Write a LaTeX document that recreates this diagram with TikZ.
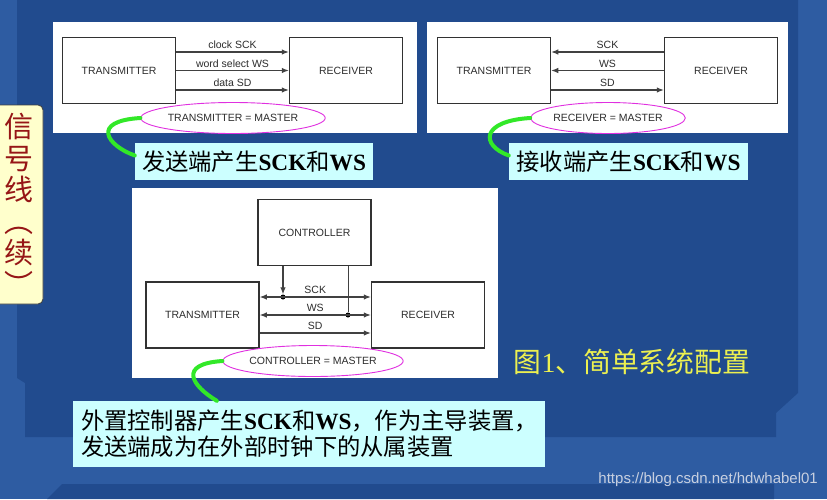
\documentclass[tikz,border=0pt]{standalone}
\usepackage{fontspec}
\setmainfont{Liberation Serif}
\newfontfamily\cjk{Noto Sans CJK SC}
\newfontfamily\arial{Liberation Sans}
\usetikzlibrary{arrows.meta}
\usetikzlibrary{shapes.geometric}

\definecolor{bgdark}{RGB}{33,75,142}
\definecolor{bglight}{RGB}{46,92,162}
\definecolor{boxgray}{RGB}{50,50,50}
\definecolor{siggray}{RGB}{65,65,65}
\definecolor{txtgray}{RGB}{45,45,45}
\definecolor{mastermag}{RGB}{224,48,224}
\definecolor{hookgreen}{RGB}{50,232,40}
\definecolor{notecyan}{RGB}{204,255,255}
\definecolor{sideyellow}{RGB}{255,255,204}
\definecolor{sidered}{RGB}{150,22,22}
\definecolor{capyellow}{RGB}{236,240,80}
\definecolor{wmgray}{RGB}{200,208,224}

\begin{document}
\begin{tikzpicture}[x=1pt,y=-1pt]
        \tikzset{box/.style={draw=boxgray,line width=1.5pt,minimum width=113pt,minimum height=66pt,inner sep=0pt,text=txtgray,font=\arial\fontsize{10.5}{12}\selectfont}};
        \tikzset{sig/.style={draw=siggray,line width=1.1pt,>={Latex[length=7pt,width=5.5pt]}}};
        \tikzset{lab/.style={text=txtgray,inner sep=2.5pt,font=\arial\fontsize{10.5}{12}\selectfont}};
        \tikzset{master/.style={ellipse,draw=mastermag,line width=0.9pt,minimum width=148pt,minimum height=31pt,inner sep=0pt,text=txtgray,font=\arial\fontsize{10.5}{12}\selectfont}};
        \tikzset{dot/.style={circle,fill=black,inner sep=0pt,minimum size=5pt}};
        \tikzset{hook/.style={draw=hookgreen,line width=4pt,line cap=round}};
        \tikzset{note/.style={fill=notecyan,inner sep=0pt,text=black,font=\fontsize{23.3}{26}\selectfont}};

        \useasboundingbox (0,0) rectangle (827,499);
        \fill[bglight] (0,0) rectangle (827,499);
        \fill[bgdark] (17,0) -- (798,0) -- (798,393) -- (776,413) -- (776,437) -- (25,437) -- (25,383) -- (17,378) -- cycle;
        \fill[bgdark] (62,484) -- (774,484) -- (774,499) -- (47,499) -- cycle;

        \fill[white] (53,22) rectangle (417,133);
        \fill[white] (427,22) rectangle (788,133);
        \fill[white] (132,188) rectangle (498,378);

        \node[box] (tA) at (119,70.5) {TRANSMITTER};
        \node[box] (rA) at (346,70.5) {RECEIVER};
        \draw[sig,->] ([yshift=18.5pt]tA.east) -- node[lab,above] {clock SCK} ([yshift=18.5pt]rA.west);
        \draw[sig,->] (tA.east) -- node[lab,above] {word select WS} (rA.west);
        \draw[sig,->] ([yshift=-19.5pt]tA.east) -- node[lab,above] {data SD} ([yshift=-19.5pt]rA.west);
        \node[master] (m1) at (233,118) {TRANSMITTER = MASTER};

        \node[box] (tB) at (494,70.5) {TRANSMITTER};
        \node[box] (rB) at (721,70.5) {RECEIVER};
        \draw[sig,->] ([yshift=18.5pt]rB.west) -- node[lab,above] {SCK} ([yshift=18.5pt]tB.east);
        \draw[sig,->] (rB.west) -- node[lab,above] {WS} (tB.east);
        \draw[sig,->] ([yshift=-19.5pt]tB.east) -- node[lab,above] {SD} ([yshift=-19.5pt]rB.west);
        \node[master] (m2) at (608,118) {RECEIVER = MASTER};

        \node[box] (ctl) at (314.5,232.5) {CONTROLLER};
        \node[box] (tr3) at (202.5,315) {TRANSMITTER};
        \node[box] (rx3) at (428,315) {RECEIVER};
        \node[dot] (j1) at (283,297) {};
        \node[dot] (j2) at (348,315) {};
        \draw[sig,<->] (tr3.east |- j1) -- node[lab,above] {SCK} (rx3.west |- j1);
        \draw[sig,<->] (tr3.east |- j2) -- node[lab,above] {WS} (rx3.west |- j2);
        \draw[sig,->] ([yshift=-18pt]tr3.east) -- node[lab,above] {SD} ([yshift=-18pt]rx3.west);
        \draw[sig,->] (ctl.south -| j1) -- (j1);
        \draw[draw=siggray,line width=0.6pt] (ctl.south -| j2) -- (j2);
        \node[master] (m3) at (313,361) {CONTROLLER = MASTER};

        \node[note,minimum width=238pt,minimum height=37pt] (c1) at (254,161.5) {{\cjk 发送端产生}\textbf{SCK}{\cjk 和}\textbf{WS}};
        \node[note,minimum width=239pt,minimum height=37pt] (c2) at (628.5,161.5) {{\cjk 接收端产生}\textbf{SCK}{\cjk 和}\textbf{WS}};
        \node[note,minimum width=472pt,minimum height=66pt,text width=456pt,align=left] (c3) at (309,434)
            {{\cjk 外置控制器产生}\textbf{SCK}{\cjk 和}\textbf{WS}{\cjk ，作为主导装置，}\\{\cjk 发送端成为在外部时钟下的从属装置}};

        \draw[hook] (m1.west) .. controls +(-50,3) and +(-28,-10) .. ([yshift=6pt]c1.west);
        \draw[hook] (m2.west) .. controls +(-50,3) and +(-28,-10) .. ([yshift=6pt]c2.west);
        \draw[hook] (m3.west) .. controls +(-45,3) and +(-25,-15) .. ([xshift=144pt]c3.north west);

        \node[draw=black!75,line width=0.8pt,rounded corners=5pt,fill=sideyellow,minimum width=48pt,minimum height=199pt,inner sep=0pt,align=center,text=sidered,font=\cjk\fontsize{29}{31.5}\selectfont] (side) at (19,204.5)
            {信\\号\\线\\︵\\续\\︶};

        \node[text=capyellow,font=\fontsize{27.8}{30}\selectfont] (cap) at (632,362) {{\cjk 图}1{\cjk 、简单系统配置}};
        \node[anchor=east,text=wmgray,inner sep=0pt,font=\arial\fontsize{15}{16}\selectfont] (wm) at (818,480) {https://blog.csdn.net/hdwhabel01};
\end{tikzpicture}
\end{document}
